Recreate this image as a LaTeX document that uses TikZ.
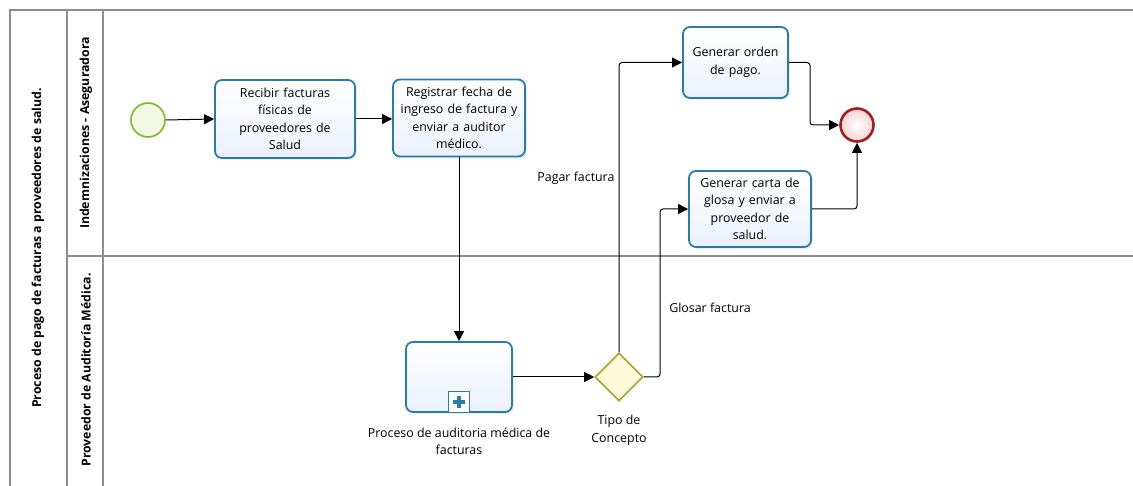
\documentclass[tikz,border=0pt]{standalone}
\usepackage{fontspec}
\setmainfont{Open Sans}
\usetikzlibrary{shapes.geometric,arrows.meta,shadows}
\definecolor{laneline}{HTML}{8C8C8C}
\definecolor{taskstroke}{HTML}{2B7BAA}
\definecolor{taskfill}{HTML}{EAF0FC}
\definecolor{startstroke}{HTML}{7DB928}
\definecolor{startfill}{HTML}{F1F8E3}
\definecolor{endstroke}{HTML}{A41E1E}
\definecolor{endfill}{HTML}{F3D3D3}
\definecolor{gwstroke}{HTML}{A9A22A}
\definecolor{gwfill}{HTML}{FBFBDA}
\tikzset{
  x=1pt, y=-1pt,
  txt/.style={font=\fontsize{12.4}{17.5}\selectfont, align=center},
  task/.style={draw=taskstroke, line width=1.8pt, rounded corners=7pt,
    top color=white, bottom color=taskfill, txt, inner sep=2pt,
    drop shadow={shadow xshift=2pt, shadow yshift=-2pt, opacity=0.15}},
  startev/.style={circle, draw=startstroke, line width=1.6pt, fill=startfill,
    minimum size=34pt, inner sep=0pt},
  endev/.style={circle, draw=endstroke, line width=2.6pt, inner color=white,
    outer color=endfill, minimum size=33pt, inner sep=0pt},
  gateway/.style={diamond, draw=gwstroke, line width=1.6pt, fill=gwfill,
    minimum width=48pt, minimum height=48pt, inner sep=0pt},
  flow/.style={draw=black, line width=1pt, rounded corners=3pt,
    -{Triangle[length=10pt,width=10pt]}},
  pool/.style={draw=laneline, line width=1.6pt},
  hdr/.style={font=\fontsize{12.3}{15}\selectfont\bfseries, rotate=90}
}
\begin{document}
\begin{tikzpicture}
\useasboundingbox (0,0) rectangle (1133,486);
% pool and lanes
\draw[pool] (1133,10) -- (10,10) -- (10,486);
\draw[pool] (67,10) -- (67,486);
\draw[pool] (103,10) -- (103,486);
\draw[pool] (67,256) -- (1133,256);
\node[hdr] (poolname) at (38,248) {Proceso de pago de facturas a proveedores de salud.};
\node[hdr] (lane1) at (86,133) {Indemnizaciones - Aseguradora};
\node[hdr] (lane2) at (86,370) {Proveedor de Auditoría Médica.};

% events, tasks and gateway
\node[startev] (start) at (148,120) {};
\node[task, minimum width=140pt, minimum height=78pt, text width=130pt] (recibir) at (285,119)
  {Recibir facturas\\físicas de\\proveedores de\\Salud};
\node[task, minimum width=132pt, minimum height=77pt, text width=128pt] (registrar) at (459,118)
  {Registrar fecha de\\ingreso de factura y\\enviar a auditor\\médico.};
\node[task, minimum width=106pt, minimum height=70pt] (auditoria) at (459,377) {};
\node[draw=taskstroke, line width=1.6pt, fill=white, minimum size=21pt, inner sep=0pt] (marker)
  at (459,402) {};
\draw[taskstroke, line width=4pt] ([yshift=6pt]marker.center) -- ([yshift=-6pt]marker.center)
  ([xshift=-6pt]marker.center) -- ([xshift=6pt]marker.center);
\node[txt, anchor=north] (auditorialbl) at (459,424)
  {Proceso de auditoria médica de\\facturas};
\node[gateway] (gw) at (619,377) {};
\node[txt, anchor=north] (gwlbl) at (619,412) {Tipo de\\Concepto};
\node[task, minimum width=105pt, minimum height=71pt, text width=100pt] (orden) at (735.5,62.5)
  {Generar orden\\de pago.};
\node[task, minimum width=122pt, minimum height=76pt, text width=118pt] (glosa) at (750,209)
  {Generar carta de\\glosa y enviar a\\proveedor de\\salud.};
\node[endev] (end) at (857,125) {};

% sequence flows
\draw[flow] (start.east) -- (recibir.west);
\draw[flow] (recibir.east) -- (registrar.west |- recibir.east);
\draw[flow] (registrar.south) -- (auditoria.north);
\draw[flow] (auditoria.east) -- (gw.west);
\draw[flow] (gw.north) -- (gw.north |- orden.west) -- (orden.west);
\node[txt, anchor=east] (pagar) at (618,178) {Pagar factura};
\draw[flow] (gw.east) -- (660,377) -- (660,209) -- (glosa.west);
\node[txt] (glosar) at (710,308) {Glosar factura};
\draw[flow] (orden.east) -- (810,62.5) -- (810,125) -- (end.west);
\draw[flow] (glosa.east) -- (857,209) -- (end.south);
\end{tikzpicture}
\end{document}
